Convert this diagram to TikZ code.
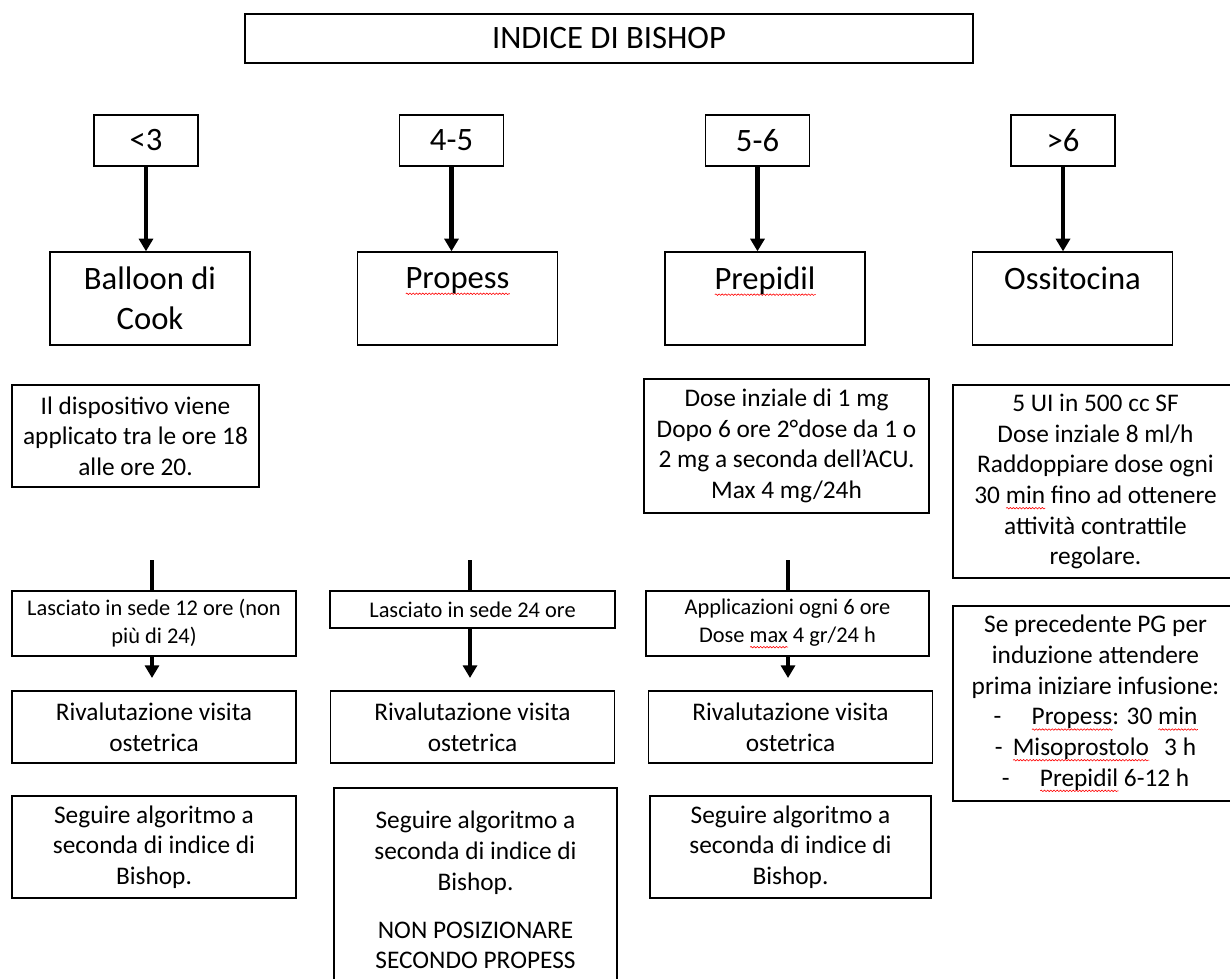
\documentclass[tikz,border=0pt]{standalone}
\usepackage{fontspec}
\setmainfont{Carlito}
\usetikzlibrary{arrows.meta, decorations.pathmorphing}

\newcommand\fbig{\fontsize{24.5}{30}\selectfont}
\newcommand\fmid{\fontsize{19}{23}\selectfont}
\newcommand\fsml{\fontsize{16.8}{21}\selectfont}
% red squiggle under a word
\newsavebox\spbox
\newcommand\spell[1]{\sbox\spbox{#1}\rlap{\tikz[baseline=0pt, x=1pt, y=1pt]
  \draw[red, line width=0.45pt, decorate, decoration={snake, amplitude=0.55pt, segment length=2.4pt}]
  (0,-3.6) -- (\wd\spbox,-3.6);}\usebox\spbox}

\begin{document}
\begin{tikzpicture}[x=0.75pt, y=-0.75pt]
\tikzset{
	box/.style = {
		draw, line width=1pt,
		align=center, inner xsep=3pt, inner ysep=0pt
	},
	sz/.style 2 args = {
		minimum width=#1*0.75pt, minimum height=#2*0.75pt
	},
	arr/.style = {
		line width=3.2pt, -{Triangle[length=9.5pt, width=10.5pt]}
	},
	stem/.style = {
		line width=3.2pt
	},
}
\useasboundingbox (0,0) rectangle (1230,978);
\clip (0,0) rectangle (1230,978);

% title
\node [box, sz={728}{49}, font=\fbig] (title) at (609, 38.5) {INDICE DI BISHOP};

% score ranges and what goes with them
\foreach \n/\x/\t in {1/146/{<3}, 2/451.5/{4-5}, 3/757.5/{5-6}, 4/1063/{>6}}
{
  \node [box, sz={104}{51}, font=\fbig] (r\n) at (\x, 140.5) {\t};
}
\foreach \n/\x/\t in {1/150/{Balloon di\\Cook}, 2/457.5/{\spell{Propess}\\\mbox{}},
                      3/765/{\spell{Prepidil}\\\mbox{}}, 4/1072.5/{Ossitocina\\\mbox{}}}
{
  \node [box, sz={200}{93}, font=\fbig] (t\n) at (\x, 298.5) {\t};
}
\foreach \n in {1,...,4}{
  \draw [arr] (r\n.south) -- (r\n.south |- t\n.north);
}

% notes
\node [box, sz={247}{102}, font=\fmid] (d1) at (135.5, 436)
  {Il dispositivo viene\\applicato tra le ore 18\\alle ore 20.};
\node [box, sz={285}{134}, font=\fmid] (d3) at (786.5, 446)
  {Dose inziale di 1 mg\\Dopo 6 ore 2°dose da 1 o\\2 mg a seconda dell’ACU.\\Max 4 mg/24h};
\node [box, sz={285}{193}, font=\fmid] (d4) at (1095.5, 481.5)
  {5 UI in 500 cc SF\\Dose inziale 8 ml/h\\Raddoppiare dose ogni\\30 \spell{min} fino ad ottenere\\attività contrattile\\regolare.};

% time in place
\node [box, sz={284}{65}, font=\fsml] (l1) at (154, 623.5) {Lasciato in sede 12 ore (non\\più di 24)};
\node [box, sz={285}{37}, font=\fsml] (l2) at (472.5, 609.5) {Lasciato in sede 24 ore};
\node [box, sz={283}{65}, font=\fsml] (l3) at (787.5, 623.5) {Applicazioni ogni 6 ore\\Dose \spell{max} 4 gr/24 h};
\node [box, sz={285}{195}, font=\fmid] (s4) at (1095.5, 703.5)
  {Se precedente PG per\\induzione attendere\\prima iniziare infusione:\\
   -\hspace{1.2em}\spell{Propess}: 30 \spell{min}\\-\hspace{0.4em}\spell{Misoprostolo}\hspace{0.6em}3 h\\-\hspace{1.2em}\spell{Prepidil} 6-12 h};

\foreach \n/\x in {1/152, 2/470, 3/788}
{
  \coordinate (c\n) at (\x, 560);
  \coordinate (e\n) at (\x, 678);
  \draw [stem] (c\n) -- (c\n |- l\n.north);
  \draw [arr] (l\n.south -| e\n) -- (e\n);
}

% check again, then follow on
\foreach \n/\x in {1/154, 2/472.5, 3/790.5}
{
  \node [box, sz={284}{72}, font=\fmid] (v\n) at (\x, 727) {Rivalutazione visita\\ostetrica};
}
\node [box, sz={284}{102}, font=\fmid] (g1) at (154, 847) {Seguire algoritmo a\\seconda di indice di\\Bishop.};
\node [box, sz={283}{204}, font=\fmid] (g2) at (475.5, 890)
  {Seguire algoritmo a\\seconda di indice di\\Bishop.\\[13pt]NON POSIZIONARE\\SECONDO PROPESS};
\node [box, sz={281}{102}, font=\fmid] (g3) at (790.5, 847) {Seguire algoritmo a\\seconda di indice di\\Bishop.};

\end{tikzpicture}
\end{document}
